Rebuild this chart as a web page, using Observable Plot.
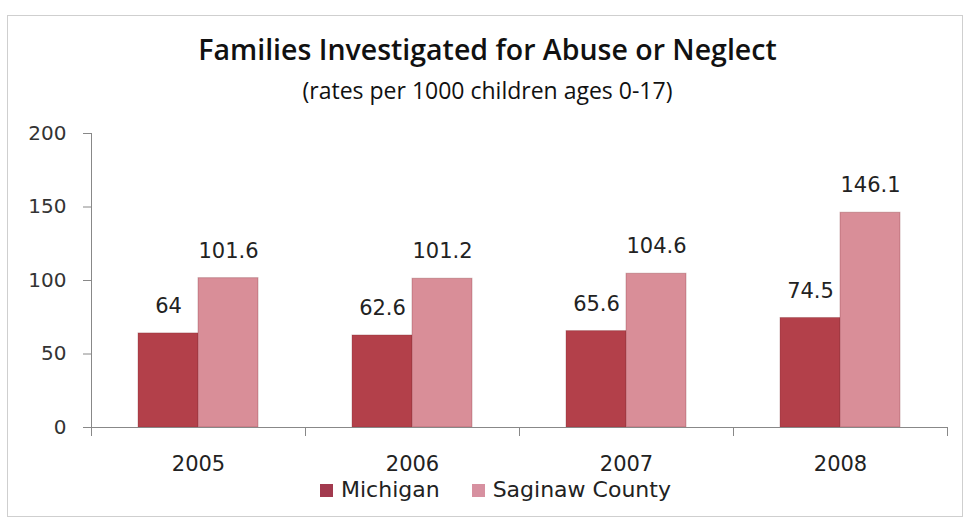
<!DOCTYPE html>
<html>
<head>
<meta charset="utf-8">
<script src="https://cdn.jsdelivr.net/npm/d3@7"></script>
<script src="https://cdn.jsdelivr.net/npm/@observablehq/plot@0.6"></script>
<style>
  html, body { margin: 0; padding: 0; background: #fff; }
  #page { position: relative; width: 968px; height: 523px; overflow: hidden; background: #fff; }
  #frame { position: absolute; left: 7px; top: 15px; width: 956px; height: 502px; border: 1px solid #cfcfcf; box-sizing: border-box; }
  .ttl { position: absolute; left: 0; width: 975px; text-align: center; white-space: nowrap; color: #111; font-family: "Open Sans", sans-serif; line-height: 1; }
  #title { top: 35px; font-size: 28.5px; font-weight: 600; }
  #subtitle { top: 79px; font-size: 23px; }
  #chart { position: absolute; left: 0; top: 110px; }
  #legend { position: absolute; left: 320px; top: 479px; display: flex; font-family: "DejaVu Sans", sans-serif; font-size: 22px; line-height: 1; color: #222; }
  .item { display: flex; align-items: flex-start; margin-right: 32px; }
  .sw { width: 13px; height: 13px; margin-top: 5px; margin-right: 8px; }
</style>
</head>
<body>
<div id="page">
  <div id="frame"></div>
  <div id="title" class="ttl">Families Investigated for Abuse or Neglect</div>
  <div id="subtitle" class="ttl">(rates per 1000 children ages 0-17)</div>
  <div id="chart"></div>
  <div id="legend"></div>
</div>
<script>
const years = ["2005", "2006", "2007", "2008"];
const seriesNames = ["Michigan", "Saginaw County"];
const michigan = [64, 62.6, 65.6, 74.5];
const saginaw = [101.6, 101.2, 104.6, 146.1];
const yTicks = [0, 50, 100, 150, 200];
const seriesColors = ["#b3404a", "#d98e98"];
const legendColors = ["#a23a4e", "#d790a0"];

const rows = years.flatMap((yr, i) => [
  {year: yr, series: seriesNames[0], value: michigan[i]},
  {year: yr, series: seriesNames[1], value: saginaw[i]}
]);

const plot = Plot.plot({
  width: 968,
  height: 375,
  marginTop: 23,
  marginBottom: 58,
  marginLeft: 90,
  marginRight: 20,
  style: {fontFamily: "DejaVu Sans, sans-serif", fontSize: "20px", color: "#333", background: "transparent", overflow: "visible"},
  fx: {domain: years, padding: 0, label: null},
  x: {domain: seriesNames, paddingInner: 0, paddingOuter: 0.77, axis: null},
  y: {domain: [0, 200], label: null},
  color: {domain: seriesNames, range: seriesColors},
  marks: [
    Plot.barY(rows, {fx: "year", x: "series", y: "value", fill: "series", stroke: "#7a2a30", strokeOpacity: 0.3}),
    Plot.ruleY([0], {stroke: "#888"}),
    Plot.axisY(yTicks, {tickSize: 8, tickPadding: 17, stroke: "#888", fill: "#333", fontSize: 20, label: null}),
    Plot.axisFx({anchor: "bottom", tickSize: 0, tickPadding: 29, fill: "#222", fontSize: 21, label: null}),
    Plot.text(rows, {fx: "year", x: "series", y: "value", text: d => String(d.value), dy: -27, fill: "#222", fontSize: 21})
  ]
});

// axis line and category boundary ticks, positioned through the plot's own scales
const fx = plot.scale("fx");
const ys = plot.scale("y");
const fxStart = d => fx.apply ? fx.apply(d) : fx.range[0] + fx.domain.indexOf(d) * fx.step;
const bounds = years.map(fxStart);
bounds.push(fxStart(years[years.length - 1]) + fx.bandwidth);
const g = d3.select(plot).append("g").attr("stroke", "#888").attr("stroke-width", 1);
g.selectAll("line.b").data(bounds).join("line")
  .attr("x1", d => d + 0.5).attr("x2", d => d + 0.5)
  .attr("y1", ys.apply(0)).attr("y2", ys.apply(0) + 9);
g.append("line")
  .attr("x1", bounds[0] + 0.5).attr("x2", bounds[0] + 0.5)
  .attr("y1", ys.apply(0)).attr("y2", ys.apply(200));

document.getElementById("chart").appendChild(plot);

const legend = document.getElementById("legend");
seriesNames.forEach((name, i) => {
  const item = document.createElement("div");
  item.className = "item";
  const sw = document.createElement("div");
  sw.className = "sw";
  sw.style.background = legendColors[i];
  const lab = document.createElement("span");
  lab.textContent = name;
  item.appendChild(sw);
  item.appendChild(lab);
  legend.appendChild(item);
});
</script>
</body>
</html>
